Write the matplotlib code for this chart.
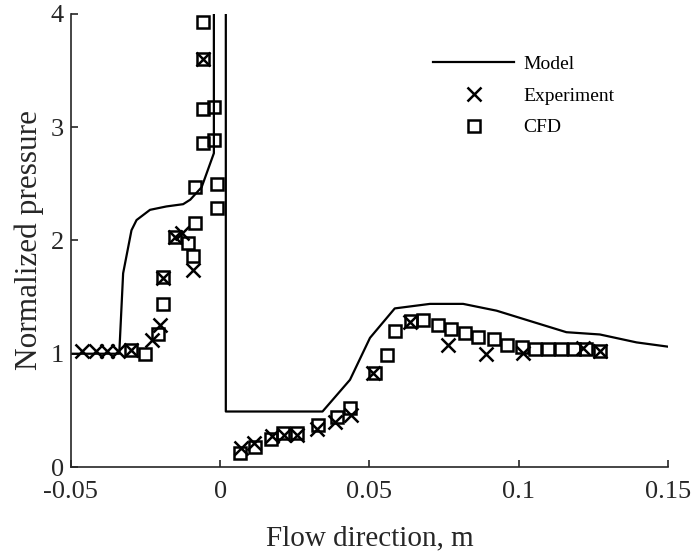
import numpy as np
import matplotlib.pyplot as plt

plt.rcParams['font.family'] = ['Liberation Serif', 'DejaVu Serif']

# model prediction
model_x = [-0.05, -0.0338, -0.0325, -0.0297, -0.028, -0.0235, -0.018, -0.0124,
           -0.010, -0.0062, -0.0021, -0.0021, 0.0019, 0.0019, 0.0343, 0.0435,
           0.0502, 0.0585, 0.0703, 0.0814, 0.0926, 0.1049, 0.116, 0.1272,
           0.1395, 0.1507]
model_y = [1.0, 1.0, 1.71, 2.09, 2.18, 2.27, 2.30, 2.32,
           2.36, 2.47, 2.77, 10.0, 10.0, 0.49, 0.49, 0.77,
           1.14, 1.40, 1.44, 1.44, 1.38, 1.28, 1.19, 1.17,
           1.10, 1.06]

# experimental data
exp_x = [-0.0463, -0.0416, -0.0380, -0.0343, -0.0297, -0.0229, -0.0202,
         -0.0191, -0.0152, -0.0129, -0.0090, -0.0057,
         0.0069, 0.0113, 0.0174, 0.0214, 0.0256, 0.0325, 0.0385, 0.0440,
         0.0512, 0.0636, 0.0764, 0.0890, 0.1015, 0.1216, 0.1272]
exp_y = [1.02, 1.02, 1.02, 1.02, 1.03, 1.12, 1.25,
         1.67, 2.03, 2.07, 1.74, 3.60,
         0.17, 0.21, 0.27, 0.28, 0.28, 0.34, 0.40, 0.46,
         0.83, 1.28, 1.08, 1.00, 1.01, 1.05, 1.02]

# CFD results
cfd_x = [-0.0297, -0.0252, -0.0208, -0.0191, -0.0191, -0.0152, -0.0107,
         -0.0090, -0.0085, -0.0085, -0.0057, -0.0057, -0.0057, -0.0057,
         -0.0021, -0.0021, -0.0012, -0.0012,
         0.0066, 0.0118, 0.0172, 0.0211, 0.0256, 0.0328, 0.0390, 0.0435,
         0.0518, 0.0558, 0.0587, 0.0641, 0.0680, 0.0730, 0.0775, 0.0820,
         0.0865, 0.0917, 0.0962, 0.1010, 0.1054, 0.1098, 0.1143, 0.1185,
         0.1227, 0.1272]
cfd_y = [1.03, 1.00, 1.17, 1.44, 1.68, 2.03, 1.98,
         1.86, 2.15, 2.47, 2.86, 3.16, 3.60, 3.93,
         2.89, 3.18, 2.50, 2.29,
         0.12, 0.18, 0.25, 0.30, 0.30, 0.37, 0.44, 0.52,
         0.83, 0.99, 1.20, 1.29, 1.30, 1.25, 1.22, 1.18,
         1.15, 1.13, 1.08, 1.06, 1.04, 1.04, 1.04, 1.04,
         1.04, 1.02]

fig = plt.figure(figsize=(6.95, 5.54), dpi=100)
ax = fig.add_axes([0.102, 0.157, 0.859, 0.818])

ax.plot(model_x, model_y, color='black', lw=1.6, label='Model')
ax.plot(exp_x, exp_y, ls='none', marker='x', ms=10, mew=1.8, color='black',
        label='Experiment')
ax.plot(cfd_x, cfd_y, ls='none', marker='s', ms=9, mew=1.8, mfc='none',
        mec='black', label='CFD')

ax.set_xlim(-0.05, 0.15)
ax.set_ylim(0, 4)
ax.set_xticks([-0.05, 0, 0.05, 0.1, 0.15])
ax.set_xticklabels(['-0.05', '0', '0.05', '0.1', '0.15'])
ax.set_yticks([0, 1, 2, 3, 4])
ax.tick_params(direction='in', length=5, width=1.2, labelsize=19,
               colors='#262626')
ax.tick_params(axis='x', pad=10)
ax.tick_params(axis='y', pad=5)
for side in ['top', 'right']:
    ax.spines[side].set_visible(False)
for side in ['left', 'bottom']:
    ax.spines[side].set_linewidth(1.2)
    ax.spines[side].set_color('#262626')

ax.set_xlabel('Flow direction, m', fontsize=21, color='#262626', labelpad=16)
ax.set_ylabel('Normalized pressure', fontsize=22.5, color='#262626', labelpad=5)

ax.legend(loc='upper left', bbox_to_anchor=(0.593, 0.925), borderaxespad=0,
          frameon=False, fontsize=14, handlelength=4.2, handletextpad=0.45,
          labelspacing=0.72)

fig.savefig('out.png', dpi=100)
